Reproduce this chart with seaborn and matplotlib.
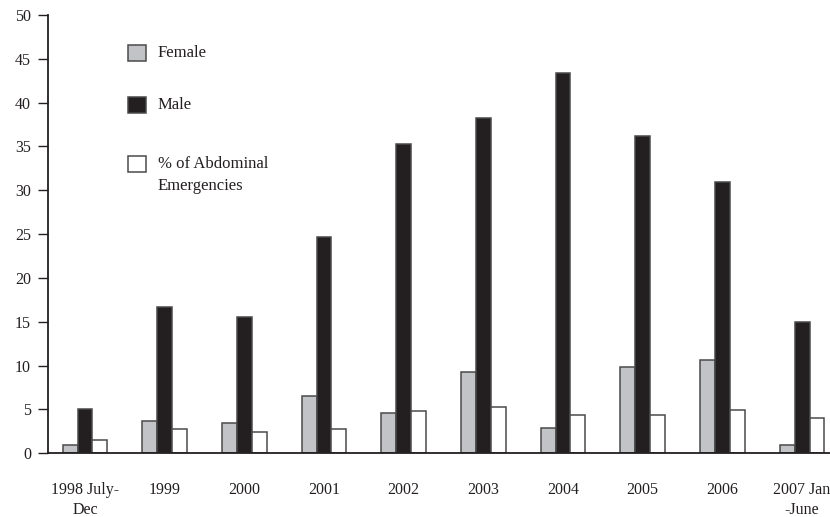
import pandas as pd
import matplotlib
matplotlib.use('Agg')
import matplotlib.pyplot as plt
from matplotlib.patches import Rectangle
import seaborn as sns

periods = ['1998 July-\nDec', '1999', '2000', '2001', '2002', '2003', '2004',
           '2005', '2006', '2007 Jan\n-June']
female = [0.9, 3.7, 3.4, 6.5, 4.6, 9.3, 2.9, 9.8, 10.6, 0.9]
male = [5.0, 16.7, 15.6, 24.7, 35.3, 38.3, 43.4, 36.2, 31.0, 15.0]
pct_abdominal = [1.5, 2.8, 2.4, 2.8, 4.8, 5.3, 4.4, 4.4, 4.9, 4.0]
series = ['Female', 'Male', '% of Abdominal\nEmergencies']
colors = ['#c2c3c6', '#231f20', '#ffffff']

rows = []
for name, vals in zip(series, [female, male, pct_abdominal]):
    for p, v in zip(periods, vals):
        rows.append({'period': p, 'value': v, 'series': name})
df = pd.DataFrame(rows)

sns.set_theme(style='white')
plt.rcParams['font.family'] = ['Liberation Serif', 'DejaVu Serif']
plt.rcParams['font.size'] = 11.5

fig = plt.figure(figsize=(8.3, 5.17), dpi=100)
W, H = 830, 517
ax = fig.add_axes([48.3 / W, (H - 453.3) / H, 1 - 48.3 / W, (453.3 - 15) / H])

sns.barplot(data=df, x='period', y='value', hue='series', hue_order=series,
            order=periods, palette=colors, saturation=1, width=0.56,
            edgecolor='#4a4a4a', linewidth=1.1, legend=False, ax=ax)

ax.set_xlim(-0.46, 9.35)
ax.set_ylim(0, 50)
ax.set_yticks(range(0, 51, 5))
ax.set_xlabel('')
ax.set_ylabel('')
for s in ['top', 'right']:
    ax.spines[s].set_visible(False)
for s in ['left', 'bottom']:
    ax.spines[s].set_color('#231f20')
    ax.spines[s].set_linewidth(1.3)
ax.tick_params(axis='y', left=True, length=7.5, width=1, color='#231f20',
               pad=5, labelsize=11.5, labelcolor='#231f20')
ax.tick_params(axis='x', bottom=False, pad=15, labelsize=11.5, labelcolor='#231f20')
for t in ax.get_xticklabels():
    t.set_linespacing(1.3)

# legend drawn by hand, squares in figure pixels
leg_y = [53, 105, 164]
for lab, col, yc in zip(series, colors, leg_y):
    fig.patches.append(Rectangle((128 / W, (H - yc - 8) / H), 18 / W, 16 / H,
                                 transform=fig.transFigure, facecolor=col,
                                 edgecolor='#4a4a4a', linewidth=1.1))
    fig.text(158 / W, (H - yc) / H, lab.split('\n')[0], ha='left', va='center',
             fontsize=12, color='#231f20')
fig.text(158 / W, (H - 186) / H, 'Emergencies', ha='left', va='center',
         fontsize=12, color='#231f20')

fig.savefig('out.png', dpi=100)
